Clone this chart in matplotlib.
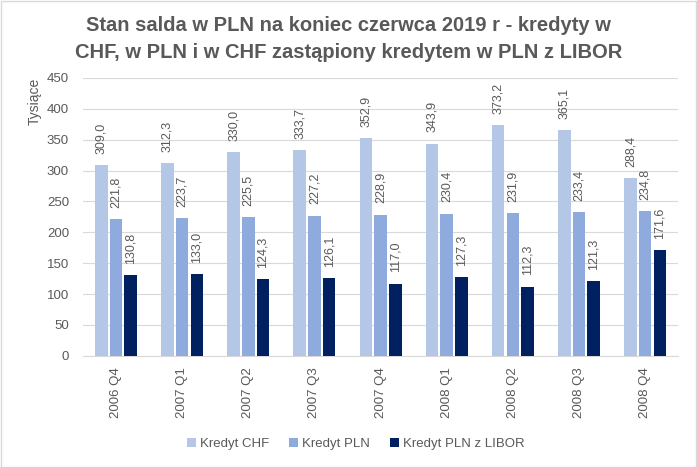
import matplotlib as mpl
mpl.use('Agg')
import matplotlib.pyplot as plt
import numpy as np

categories = ['2006 Q4', '2007 Q1', '2007 Q2', '2007 Q3', '2007 Q4',
              '2008 Q1', '2008 Q2', '2008 Q3', '2008 Q4']
kredyt_chf = [309.0, 312.3, 330.0, 333.7, 352.9, 343.9, 373.2, 365.1, 288.4]
kredyt_pln = [221.8, 223.7, 225.5, 227.2, 228.9, 230.4, 231.9, 233.4, 234.8]
kredyt_libor = [130.8, 133.0, 124.3, 126.1, 117.0, 127.3, 112.3, 121.3, 171.6]

series = [('Kredyt CHF', kredyt_chf, '#b4c7e7'),
          ('Kredyt PLN', kredyt_pln, '#8faadc'),
          ('Kredyt PLN z LIBOR', kredyt_libor, '#002060')]

plt.rcParams['font.family'] = ['Liberation Sans', 'DejaVu Sans']
grey = '#595959'

fig = plt.figure(figsize=(6.97, 4.67), dpi=100)
ax = fig.add_axes([0.119, 0.238, 0.854, 0.595])

x = np.arange(len(categories))
w = 0.19
step = 0.222
for i, (name, vals, col) in enumerate(series):
    pos = x + (i - 1) * step
    ax.bar(pos, vals, width=w, color=col, label=name, zorder=3)
    for p, v in zip(pos, vals):
        ax.annotate(('%.1f' % v).replace('.', ','), (p, v), xytext=(0, 8),
                    textcoords='offset points', rotation=90, ha='center',
                    va='bottom', fontsize=9, color=grey)

ax.set_xlim(-0.5, len(categories) - 0.5)
ax.set_ylim(0, 450)
ax.set_yticks(range(0, 451, 50))
ax.set_xticks(x)
ax.set_xticklabels(categories, rotation=90, fontsize=9.5, color=grey)
ax.tick_params(axis='y', labelsize=9.5, colors=grey, length=0, pad=10)
ax.tick_params(axis='x', length=0, pad=8)
ax.grid(axis='y', color='#d9d9d9', linewidth=0.8, zorder=0)
for s in ['top', 'right', 'left']:
    ax.spines[s].set_visible(False)
ax.spines['bottom'].set_color('#d9d9d9')

fig.text(0.05, 0.833, 'Tysiące', rotation=90, ha='center', va='top',
         fontsize=10, color=grey)

fig.suptitle('Stan salda w PLN na koniec czerwca 2019 r - kredyty w\n'
             'CHF, w PLN i w CHF zastąpiony kredytem w PLN z LIBOR',
             y=0.965, fontsize=14.5, fontweight='bold', color=grey,
             linespacing=1.5)

fig.legend(loc='center', bbox_to_anchor=(0.51, 0.05), ncol=3, frameon=False,
           fontsize=9.5, labelcolor=grey, handlelength=0.7, handleheight=0.7,
           handletextpad=0.3, columnspacing=1.5)

fig.patches.append(plt.Rectangle((0.001, 0.001), 0.997, 0.997,
                                 transform=fig.transFigure, fill=False,
                                 edgecolor='#d9d9d9', linewidth=1))

plt.savefig('out.png', dpi=100)
plt.close('all')
